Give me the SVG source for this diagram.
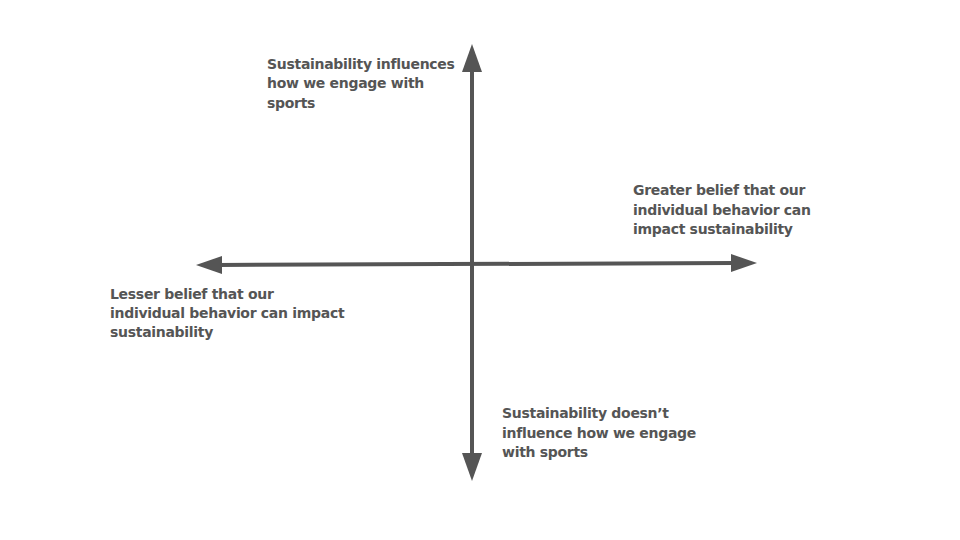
<svg xmlns="http://www.w3.org/2000/svg" width="960" height="540" viewBox="0 0 960 540">
<defs>
<style>
.t{font-family:"DejaVu Sans","Liberation Sans",sans-serif;font-weight:bold;font-size:14px;letter-spacing:-0.3px;fill:#555555}
.ax{stroke:#555555;stroke-width:4;fill:none}
.ah{fill:#555555}
</style>
</defs>
<rect width="960" height="540" fill="#ffffff"/>
<g id="connectors">
<line class="ax" x1="472" y1="68" x2="472" y2="458"/>
<polygon class="ah" points="472,44 482,72 462,72"/>
<polygon class="ah" points="472,481 482,453 462,453"/>
<line class="ax" x1="218" y1="265" x2="734" y2="263"/>
<polygon class="ah" points="196,265 222,256 222,274"/>
<polygon class="ah" points="757,263 731,254 731,272"/>
</g>
<g id="top-label">
<text class="t" x="267" y="69">Sustainability influences</text>
<text class="t" x="267" y="88">how we engage with</text>
<text class="t" x="267" y="108">sports</text>
</g>
<g id="right-label">
<text class="t" x="633" y="195">Greater belief that our</text>
<text class="t" x="633" y="215">individual behavior can</text>
<text class="t" x="633" y="234">impact sustainability</text>
</g>
<g id="left-label">
<text class="t" x="110" y="299">Lesser belief that our</text>
<text class="t" x="110" y="318">individual behavior can impact</text>
<text class="t" x="110" y="337">sustainability</text>
</g>
<g id="bottom-label">
<text class="t" x="502" y="418">Sustainability doesn’t</text>
<text class="t" x="502" y="438">influence how we engage</text>
<text class="t" x="502" y="457">with sports</text>
</g>
</svg>
